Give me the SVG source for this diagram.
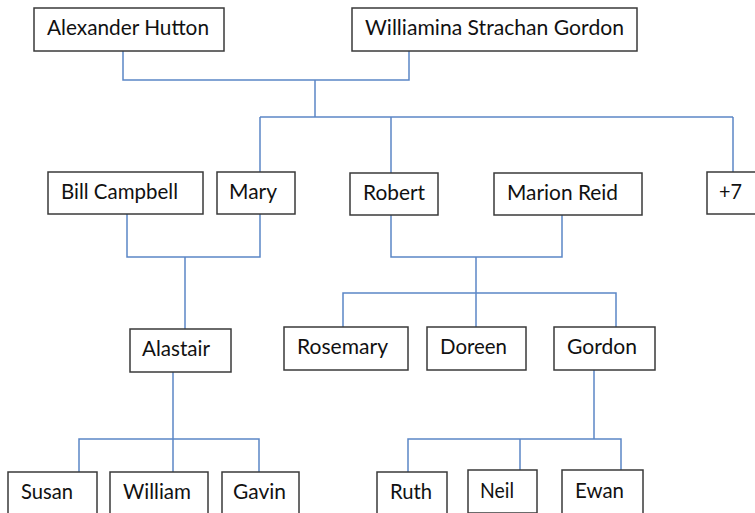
<svg xmlns="http://www.w3.org/2000/svg" width="755" height="513" viewBox="0 0 755 513">
<style>
.box{fill:#fff;stroke:#3a3a3a;stroke-width:1.5}
.lbl{font-family:Lato,"Open Sans","Liberation Sans",sans-serif;font-size:22px;fill:#111}
.ln{fill:none;stroke:#5b86c6;stroke-width:1.5}
</style>
<rect width="755" height="513" fill="#fff"/>
<g id="connectors">
<polyline class="ln" points="123,51 123,80 409,80 409,51"/>
<line class="ln" x1="315" y1="80" x2="315" y2="117"/>
<line class="ln" x1="260" y1="117" x2="733" y2="117"/>
<line class="ln" x1="260" y1="117" x2="260" y2="172"/>
<line class="ln" x1="391" y1="117" x2="391" y2="173"/>
<line class="ln" x1="733" y1="117" x2="733" y2="172"/>
<polyline class="ln" points="127,214 127,257 260,257 260,214"/>
<line class="ln" x1="185" y1="257" x2="185" y2="329"/>
<polyline class="ln" points="391,215 391,257 562,257 562,215"/>
<line class="ln" x1="476" y1="257" x2="476" y2="327"/>
<polyline class="ln" points="343,327 343,293 616,293 616,327"/>
<line class="ln" x1="173" y1="372" x2="173" y2="472"/>
<polyline class="ln" points="79,472 79,439 259,439 259,472"/>
<line class="ln" x1="594" y1="370" x2="594" y2="439"/>
<polyline class="ln" points="408,472 408,439 621,439 621,470"/>
<line class="ln" x1="520" y1="439" x2="520" y2="470"/>
</g>
<g id="n-alexander"><rect class="box" x="34" y="8" width="190" height="43"/><text class="lbl" x="47" y="35" textLength="162" lengthAdjust="spacingAndGlyphs">Alexander Hutton</text></g>
<g id="n-williamina"><rect class="box" x="352" y="8" width="285" height="43"/><text class="lbl" x="365" y="35" textLength="259" lengthAdjust="spacingAndGlyphs">Williamina Strachan Gordon</text></g>
<g id="n-bill"><rect class="box" x="48" y="172" width="155" height="42"/><text class="lbl" x="61" y="199" textLength="117" lengthAdjust="spacingAndGlyphs">Bill Campbell</text></g>
<g id="n-mary"><rect class="box" x="217" y="172" width="78" height="42"/><text class="lbl" x="229" y="199" textLength="48" lengthAdjust="spacingAndGlyphs">Mary</text></g>
<g id="n-robert"><rect class="box" x="350" y="173" width="88" height="42"/><text class="lbl" x="363" y="200" textLength="62" lengthAdjust="spacingAndGlyphs">Robert</text></g>
<g id="n-marion"><rect class="box" x="494" y="173" width="148" height="42"/><text class="lbl" x="507" y="200" textLength="111" lengthAdjust="spacingAndGlyphs">Marion Reid</text></g>
<g id="n-plus7"><rect class="box" x="707" y="172" width="60" height="42"/><text class="lbl" x="719" y="199" textLength="23" lengthAdjust="spacingAndGlyphs">+7</text></g>
<g id="n-alastair"><rect class="box" x="130" y="329" width="101" height="43"/><text class="lbl" x="142" y="356" textLength="68" lengthAdjust="spacingAndGlyphs">Alastair</text></g>
<g id="n-rosemary"><rect class="box" x="284" y="327" width="124" height="43"/><text class="lbl" x="297" y="354" textLength="91" lengthAdjust="spacingAndGlyphs">Rosemary</text></g>
<g id="n-doreen"><rect class="box" x="427" y="327" width="99" height="43"/><text class="lbl" x="440" y="354" textLength="67" lengthAdjust="spacingAndGlyphs">Doreen</text></g>
<g id="n-gordon"><rect class="box" x="554" y="327" width="101" height="43"/><text class="lbl" x="567" y="354" textLength="70" lengthAdjust="spacingAndGlyphs">Gordon</text></g>
<g id="n-susan"><rect class="box" x="8" y="472" width="89" height="60"/><text class="lbl" x="21" y="499" textLength="52" lengthAdjust="spacingAndGlyphs">Susan</text></g>
<g id="n-william"><rect class="box" x="110" y="472" width="98" height="60"/><text class="lbl" x="123" y="499" textLength="68" lengthAdjust="spacingAndGlyphs">William</text></g>
<g id="n-gavin"><rect class="box" x="222" y="472" width="77" height="60"/><text class="lbl" x="233" y="499" textLength="53" lengthAdjust="spacingAndGlyphs">Gavin</text></g>
<g id="n-ruth"><rect class="box" x="377" y="472" width="70" height="60"/><text class="lbl" x="390" y="499" textLength="42" lengthAdjust="spacingAndGlyphs">Ruth</text></g>
<g id="n-neil"><rect class="box" x="468" y="470" width="69" height="43"/><text class="lbl" x="480" y="498" textLength="34" lengthAdjust="spacingAndGlyphs">Neil</text></g>
<g id="n-ewan"><rect class="box" x="562" y="470" width="81" height="60"/><text class="lbl" x="575" y="498" textLength="49" lengthAdjust="spacingAndGlyphs">Ewan</text></g>
</svg>
